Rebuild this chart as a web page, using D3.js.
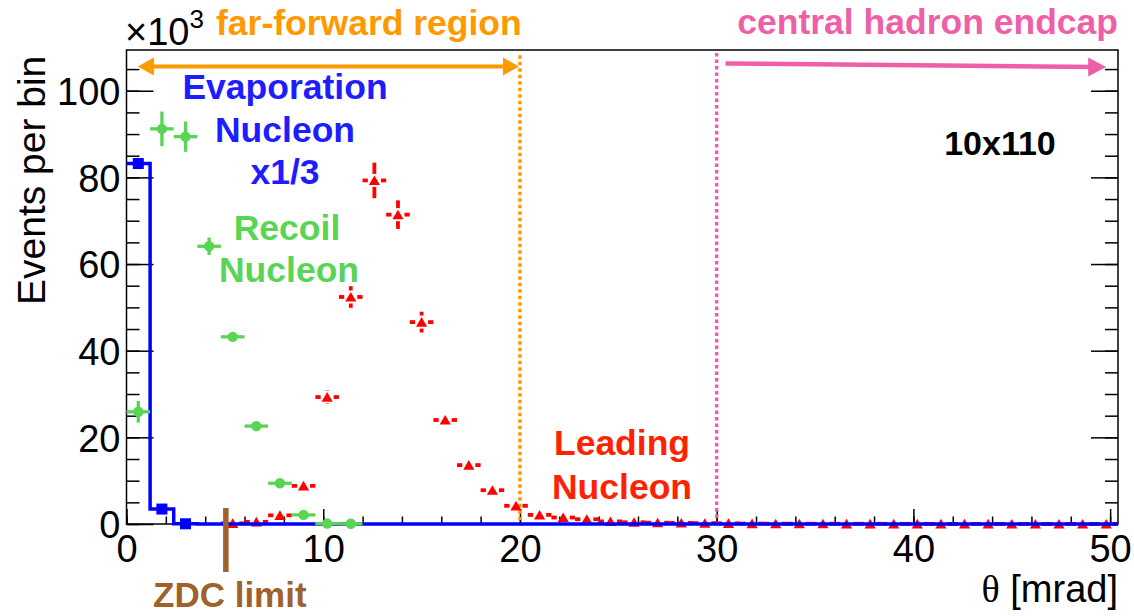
<!DOCTYPE html>
<html>
<head>
<meta charset="utf-8">
<script src="https://cdn.jsdelivr.net/npm/d3@7"></script>
<style>
body { margin: 0; background: #fff; }
text { font-family: "Liberation Sans", Arial, Helvetica, sans-serif; }
</style>
</head>
<body>
<script>
// theta bin centres [mrad], 42 bins of 1.2 mrad between 0 and 50.4
var thetaBins = [0.6, 1.8, 3.0, 4.2, 5.4, 6.6, 7.8, 9.0, 10.2, 11.4,
    12.6, 13.8, 15.0, 16.2, 17.4, 18.6, 19.8, 21.0, 22.2, 23.4,
    24.6, 25.8, 27.0, 28.2, 29.4, 30.6, 31.8, 33.0, 34.2, 35.4,
    36.6, 37.8, 39.0, 40.2, 41.4, 42.6, 43.8, 45.0, 46.2, 47.4,
    48.6, 49.8];
var binWidth = 1.2;

// events per bin, x10^3
// evaporation nucleon (already scaled x1/3)
var evapValues = [83.2, 3.45, 0.05, 0, 0, 0, 0, 0, 0, 0,
    0, 0, 0, 0, 0, 0, 0, 0, 0, 0,
    0, 0, 0, 0, 0, 0, 0, 0, 0, 0,
    0, 0, 0, 0, 0, 0, 0, 0, 0, 0,
    0, 0];

// recoil nucleon
var recoilValues = [25.9, 91.2, 89.4, 64.1, 43.2, 22.6, 9.4, 2.1, 0.1, 0.05,
    0, 0, 0, 0, 0, 0, 0, 0, 0, 0,
    0, 0, 0, 0, 0, 0, 0, 0, 0, 0,
    0, 0, 0, 0, 0, 0, 0, 0, 0, 0,
    0, 0];
var recoilErrors = [2.5, 4.0, 3.5, 2.0, 0.8, 0.5, 0.3, 0.2, 0.05, 0.05,
    0, 0, 0, 0, 0, 0, 0, 0, 0, 0,
    0, 0, 0, 0, 0, 0, 0, 0, 0, 0,
    0, 0, 0, 0, 0, 0, 0, 0, 0, 0,
    0, 0];

// leading nucleon
var leadValues = [0, 0, 0, 0, 0.15, 0.5, 2.0, 8.8, 29.3, 52.4,
    79.3, 71.4, 46.6, 24.0, 13.6, 7.8, 4.2, 2.1, 1.5, 1.1,
    0.6, 0.4, 0.3, 0.25, 0.2, 0.15, 0.1, 0.08, 0.07, 0.06,
    0.05, 0.05, 0.04, 0.04, 0.03, 0.03, 0.03, 0.02, 0.02, 0.02,
    0.02, 0.02];
var leadErrors = [0, 0, 0, 0, 0.1, 0.2, 0.4, 0.6, 1.6, 2.5,
    4.1, 3.3, 2.4, 0.9, 0.6, 0.4, 0.3, 0.2, 0.2, 0.1,
    0.1, 0.1, 0.1, 0.1, 0.1, 0.1, 0.05, 0.05, 0.05, 0.05,
    0.05, 0.05, 0.05, 0.05, 0.05, 0.05, 0.05, 0.05, 0.05, 0.05,
    0.05, 0.05];

var xTicks = [0, 10, 20, 30, 40, 50];
var xMinorTicks = d3.range(0, 51, 2);
var yTicks = [0, 20, 40, 60, 80, 100];
var yMinorTicks = d3.range(0, 106, 5);

var width = 1134;
var height = 616;
var padL = 126.5, padR = 1118, padT = 50, padB = 524;

var blue = "#0000ff", green = "#59d454", red = "#ff0000",
    orange = "#ff9900", pink = "#ef5fa7", brown = "#a0622d";

var x = d3.scaleLinear().domain([0, 50.4]).range([padL, padR]);
var y = d3.scaleLinear().domain([0, 109.4]).range([padB, padT]);

var svg = d3.select('body')
    .append('svg')
    .attr('width', width)
    .attr('height', height);

svg.append('rect')
    .attr('width', width)
    .attr('height', height)
    .attr('fill', '#fff');

// axes, ROOT style ticks pointing inwards
function styleAxis(g) {
    g.select('.domain').remove();
    g.selectAll('.tick line').attr('stroke', '#000').attr('stroke-width', 1.5);
    g.selectAll('.tick text').attr('font-size', 38).attr('fill', '#000')
        .style('font-family', '"Liberation Sans", Arial, sans-serif');
}

svg.append('g')
    .attr('transform', 'translate(' + padL + ',0)')
    .call(d3.axisLeft(y).tickValues(yMinorTicks).tickSize(-13).tickFormat(''))
    .call(styleAxis);
svg.append('g')
    .attr('transform', 'translate(' + padL + ',0)')
    .call(d3.axisLeft(y).tickValues(yTicks).tickSizeInner(-27).tickSizeOuter(0).tickPadding(6))
    .call(styleAxis)
    .selectAll('.tick text').attr('dy', '0.36em');

svg.append('g')
    .attr('transform', 'translate(' + padR + ',0)')
    .call(d3.axisRight(y).tickValues(yMinorTicks).tickSize(-13).tickFormat(''))
    .call(styleAxis);
svg.append('g')
    .attr('transform', 'translate(' + padR + ',0)')
    .call(d3.axisRight(y).tickValues(yTicks).tickSize(-27).tickFormat(''))
    .call(styleAxis);

svg.append('g')
    .attr('transform', 'translate(0,' + padB + ')')
    .call(d3.axisBottom(x).tickValues(xMinorTicks).tickSize(-7.5).tickFormat(''))
    .call(styleAxis);
svg.append('g')
    .attr('transform', 'translate(0,' + padB + ')')
    .call(d3.axisBottom(x).tickValues(xTicks).tickSizeInner(-15).tickSizeOuter(0).tickPadding(11))
    .call(styleAxis);

svg.append('rect')
    .attr('x', padL)
    .attr('y', padT)
    .attr('width', padR - padL)
    .attr('height', padB - padT)
    .attr('fill', 'none')
    .attr('stroke', '#000')
    .attr('stroke-width', 1.5);

// region markers
function vDotted(xv, ytop, color) {
    svg.append('line')
        .attr('x1', x(xv)).attr('x2', x(xv))
        .attr('y1', y(ytop)).attr('y2', y(0))
        .attr('stroke', color)
        .attr('stroke-width', 3.5)
        .attr('stroke-dasharray', '3.5,3');
}
vDotted(20, 108.2, orange);
vDotted(30, 108.7, pink);

function arrowHead(xt, yt, dir, len, half, color) {
    svg.append('path')
        .attr('d', 'M' + xt + ',' + yt +
            'L' + (xt - dir * len) + ',' + (yt - half) +
            'L' + (xt - dir * len) + ',' + (yt + half) + 'Z')
        .attr('fill', color);
}

// far-forward double arrow
var ffA = { x0: 0.58, x1: 19.95, y: 105.6 };
svg.append('line')
    .attr('x1', x(ffA.x0) + 10).attr('x2', x(ffA.x1) - 10)
    .attr('y1', y(ffA.y)).attr('y2', y(ffA.y))
    .attr('stroke', orange).attr('stroke-width', 4);
arrowHead(x(ffA.x0), y(ffA.y), -1, 16, 9, orange);
arrowHead(x(ffA.x1), y(ffA.y), 1, 16, 9, orange);

// central hadron endcap arrow
var chA = { x0: 30.45, x1: 49.8, y0: 106.3, y1: 105.5 };
svg.append('line')
    .attr('x1', x(chA.x0)).attr('x2', x(chA.x1) - 12)
    .attr('y1', y(chA.y0)).attr('y2', y(chA.y1))
    .attr('stroke', pink).attr('stroke-width', 4.5);
arrowHead(x(chA.x1), y(chA.y1), 1, 18, 9.5, pink);

// leading nucleon, error bars broken around the marker
var gap = 6.5;
var lead = thetaBins.map(function (t, i) {
    return { t: t, v: leadValues[i], e: leadErrors[i] };
}).filter(function (d) { return d.v > 0; });

var leadG = svg.append('g').attr('stroke', red).attr('stroke-width', 3.8);
lead.forEach(function (d) {
    var cx = x(d.t), cy = y(d.v);
    leadG.append('line').attr('x1', x(d.t - binWidth / 2)).attr('x2', cx - gap)
        .attr('y1', cy).attr('y2', cy);
    leadG.append('line').attr('x1', cx + gap).attr('x2', x(d.t + binWidth / 2))
        .attr('y1', cy).attr('y2', cy);
    var ey = y(d.v) - y(d.v + d.e);
    if (ey > gap) {
        leadG.append('line').attr('x1', cx).attr('x2', cx)
            .attr('y1', y(d.v + d.e)).attr('y2', cy - gap);
        leadG.append('line').attr('x1', cx).attr('x2', cx)
            .attr('y1', cy + gap).attr('y2', y(d.v - d.e));
    }
});
svg.append('g').selectAll('path')
    .data(lead)
    .enter()
    .append('path')
    .attr('d', 'M0,-5L5.6,4.6L-5.6,4.6Z')
    .attr('transform', function (d) {
        return 'translate(' + x(d.t) + ',' + y(d.v) + ')';
    })
    .attr('fill', red);

// evaporation nucleon histogram
var evapSteps = thetaBins.map(function (t, i) {
    return { x: t - binWidth / 2, y: evapValues[i] };
});
evapSteps.push({ x: 50.4, y: evapValues[evapValues.length - 1] });

var stepLine = d3.line()
    .x(function (d) { return x(d.x); })
    .y(function (d) { return y(d.y); })
    .curve(d3.curveStepAfter);

svg.append('path')
    .datum(evapSteps)
    .attr('d', stepLine)
    .attr('fill', 'none')
    .attr('stroke', blue)
    .attr('stroke-width', 3.5);

var evap = thetaBins.map(function (t, i) {
    return { t: t, v: evapValues[i] };
}).filter(function (d) { return d.v > 0; });
svg.append('g').selectAll('rect')
    .data(evap)
    .enter()
    .append('rect')
    .attr('x', function (d) { return x(d.t) - 5.5; })
    .attr('y', function (d) { return y(d.v) - 5.5; })
    .attr('width', 11)
    .attr('height', 11)
    .attr('fill', blue);

// recoil nucleon
var recoil = thetaBins.map(function (t, i) {
    return { t: t, v: recoilValues[i], e: recoilErrors[i] };
}).filter(function (d) { return d.v > 0; });

var recG = svg.append('g').attr('stroke', green).attr('stroke-width', 3.3);
recoil.forEach(function (d) {
    recG.append('line')
        .attr('x1', x(d.t - binWidth / 2)).attr('x2', x(d.t + binWidth / 2))
        .attr('y1', y(d.v)).attr('y2', y(d.v));
    recG.append('line')
        .attr('x1', x(d.t)).attr('x2', x(d.t))
        .attr('y1', y(d.v + d.e)).attr('y2', y(d.v - d.e));
});
svg.append('g').selectAll('circle')
    .data(recoil)
    .enter()
    .append('circle')
    .attr('cx', function (d) { return x(d.t); })
    .attr('cy', function (d) { return y(d.v); })
    .attr('r', 5.2)
    .attr('fill', green);

// ZDC limit
svg.append('line')
    .attr('x1', x(5.05)).attr('x2', x(5.05))
    .attr('y1', y(3.7)).attr('y2', padB + 48)
    .attr('stroke', brown)
    .attr('stroke-width', 5.5);

// texts
function label(txt, px, py, opts) {
    return svg.append('text')
        .attr('x', px)
        .attr('y', py)
        .attr('font-size', opts.size || 35.5)
        .attr('font-weight', opts.bold === false ? 'normal' : 'bold')
        .attr('text-anchor', opts.anchor || 'middle')
        .attr('fill', opts.color || '#000')
        .text(txt);
}

var mult = svg.append('text')
    .attr('x', 125)
    .attr('y', 45)
    .attr('font-size', 38)
    .attr('fill', '#000');
mult.append('tspan').text('\u00d710');
mult.append('tspan').attr('font-size', 26).attr('dy', -17).text('3');

label('far-forward region', 216, 35, { anchor: 'start', color: orange });
label('central hadron endcap', 1118, 34, { anchor: 'end', color: pink });
label('10x110', 1000, 155, { color: '#000', size: 34 });

label('Evaporation', 285, 99, { color: '#1d1dff' });
label('Nucleon', 285, 142, { color: '#1d1dff' });
label('x1/3', 285, 184, { color: '#1d1dff' });

label('Recoil', 287, 240, { color: green });
label('Nucleon', 289, 282, { color: green });

label('Leading', 622, 455, { color: '#ff2200' });
label('Nucleon', 622, 499, { color: '#ff2200' });

label('ZDC limit', 153, 607, { anchor: 'start', color: brown, size: 35 });

svg.append('text')
    .attr('transform', 'translate(45,305) rotate(-90)')
    .attr('font-size', 39)
    .attr('fill', '#000')
    .text('Events per bin');

var xt = svg.append('text')
    .attr('x', 1118)
    .attr('y', 602)
    .attr('font-size', 38)
    .attr('text-anchor', 'end')
    .attr('fill', '#000');
xt.append('tspan').style('font-family', '"Liberation Serif", "DejaVu Serif", serif').text('\u03b8');
xt.append('tspan').text(' [mrad]');
</script>
</body>
</html>
